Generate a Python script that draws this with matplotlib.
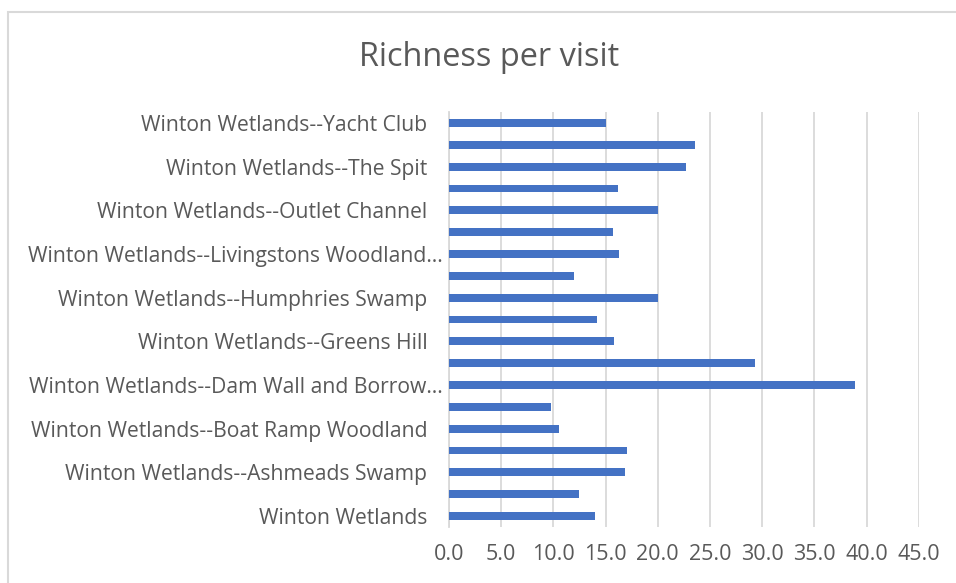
import matplotlib
matplotlib.use("Agg")
import matplotlib.pyplot as plt
from matplotlib.patches import Rectangle
from matplotlib.transforms import ScaledTranslation

# Sites listed bottom-to-top; only every other label is shown on the axis
site_labels = [
    "Winton Wetlands", "",
    "Winton Wetlands--Ashmeads Swamp", "",
    "Winton Wetlands--Boat Ramp Woodland", "",
    "Winton Wetlands--Dam Wall and Borrow…", "",
    "Winton Wetlands--Greens Hill", "",
    "Winton Wetlands--Humphries Swamp", "",
    "Winton Wetlands--Livingstons Woodland…", "",
    "Winton Wetlands--Outlet Channel", "",
    "Winton Wetlands--The Spit", "",
    "Winton Wetlands--Yacht Club",
]
richness = [14.0, 12.5, 16.9, 17.05, 10.5, 9.8, 38.9, 29.3, 15.8, 14.2,
            20.0, 12.0, 16.3, 15.7, 20.0, 16.2, 22.7, 23.6, 15.0]
x_ticks = [0, 5, 10, 15, 20, 25, 30, 35, 40, 45]

W, H = 956, 583
fig = plt.figure(figsize=(W / 100, H / 100), dpi=100)
plt.rcParams["font.family"] = ["Open Sans", "DejaVu Sans"]

# chart border
fig.patches.append(Rectangle((8 / W, -0.05), 1.2, 1 - 12 / H + 0.05,
                             transform=fig.transFigure, fill=False,
                             edgecolor="#D9D9D9", linewidth=1.5))

ax = fig.add_axes([449 / W, 1 - 527 / H, (918.7 - 449) / W, (527 - 112) / H])
pos = list(range(len(richness)))
ax.barh(pos, richness, height=0.36, color="#4472C4", zorder=3)

ax.set_xlim(0, 45)
ax.set_ylim(-0.5, len(richness) - 0.5)
ax.set_xticks(x_ticks)
ax.set_xticklabels([f"{v:.1f}" for v in x_ticks])
ax.set_yticks(pos)
ax.set_yticklabels(site_labels)
ax.tick_params(axis="both", length=0, colors="#595959")
ax.tick_params(axis="y", labelsize=15.2, pad=15.5)
ax.tick_params(axis="x", labelsize=15.5, pad=12.5)
ax.grid(axis="x", color="#D9D9D9", linewidth=1.3, zorder=0)
for s in ["top", "right", "bottom"]:
    ax.spines[s].set_visible(False)
ax.spines["left"].set_color("#D9D9D9")
ax.spines["left"].set_linewidth(1.3)

# truncated names sit a little closer to the axis
shift = ScaledTranslation(15 / 100, 0, fig.dpi_scale_trans)
for lbl in ax.get_yticklabels():
    if lbl.get_text().endswith("…"):
        lbl.set_transform(lbl.get_transform() + shift)

fig.text(489 / W, 1 - 57 / H, "Richness per visit", ha="center", va="center",
         fontsize=23.4, color="#595959")

fig.savefig("out.png", dpi=100)
